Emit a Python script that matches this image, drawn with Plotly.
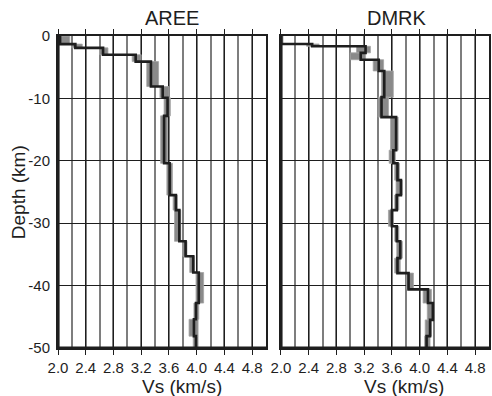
import plotly.graph_objects as go

# Shear-velocity models: layer top depth (km), velocity (km/s) and the
# spread of the model ensemble (low / high velocity) for each layer.
aree_top = [0.0, 1.3, 1.9, 3.0, 4.1, 8.1, 9.9, 12.8, 20.4, 25.5, 27.9, 32.9, 35.3, 37.9, 42.8, 45.4, 48.1]
aree_vs = [2.03, 2.25, 2.65, 3.12, 3.34, 3.51, 3.58, 3.53, 3.61, 3.70, 3.75, 3.84, 3.95, 4.03, 3.99, 3.96, 3.99]
aree_lo = [2.02, 2.20, 2.60, 3.07, 3.28, 3.47, 3.53, 3.48, 3.57, 3.66, 3.68, 3.80, 3.90, 3.99, 3.96, 3.89, 3.95]
aree_hi = [2.17, 2.35, 2.72, 3.20, 3.45, 3.60, 3.62, 3.58, 3.65, 3.72, 3.77, 3.86, 3.97, 4.10, 4.03, 4.02, 4.02]

dmrk_top = [0.0, 1.28, 1.65, 2.7, 3.8, 5.6, 9.8, 13.0, 18.3, 20.4, 23.1, 25.5, 27.9, 30.5, 32.9, 35.6, 38.0, 40.6, 42.8, 45.5, 48.1]
dmrk_vs = [2.0, 2.45, 3.22, 3.15, 3.41, 3.49, 3.45, 3.66, 3.62, 3.68, 3.73, 3.67, 3.60, 3.67, 3.72, 3.68, 3.84, 4.12, 4.19, 4.15, 4.10]
dmrk_lo = [2.0, 2.37, 3.09, 3.00, 3.33, 3.45, 3.40, 3.58, 3.56, 3.64, 3.66, 3.64, 3.55, 3.64, 3.67, 3.64, 3.81, 4.05, 4.11, 4.08, 4.07]
dmrk_hi = [2.03, 2.55, 3.29, 3.22, 3.48, 3.62, 3.55, 3.69, 3.65, 3.71, 3.75, 3.70, 3.62, 3.70, 3.75, 3.72, 3.91, 4.17, 4.20, 4.17, 4.15]

stations = ["AREE", "DMRK"]
max_depth = 50.0
vs_ticks = [2.0, 2.4, 2.8, 3.2, 3.6, 4.0, 4.4, 4.8]
vs_labels = ["2.0", "2.4", "2.8", "3.2", "3.6", "4.0", "4.4", "4.8"]
depth_ticks = [0, -10, -20, -30, -40, -50]
depth_labels = ["0", "-10", "-20", "-30", "-40", "-50"]

FONT = "Liberation Sans, Arial, sans-serif"
INK = "#1e1e1e"

fig = go.Figure()


def add_profile(tops, vs, lo, hi, xa, ya):
    bots = tops[1:] + [max_depth]
    # ensemble spread as grey boxes
    bx, by = [], []
    for t, b, l, h in zip(tops, bots, lo, hi):
        bx += [l, h, h, l, l, None]
        by += [-t, -t, -b, -b, -t, None]
    fig.add_trace(go.Scatter(x=bx, y=by, mode="lines", fill="toself",
                             fillcolor="#8a8a8a", line=dict(width=0.8, color="#a4a4a4"),
                             xaxis=xa, yaxis=ya, hoverinfo="skip", showlegend=False))
    # best model as a step line
    fig.add_trace(go.Scatter(x=vs + [vs[-1]], y=[-t for t in tops] + [-max_depth],
                             mode="lines", line=dict(color=INK, width=2.6, shape="vh"),
                             xaxis=xa, yaxis=ya, showlegend=False))


add_profile(aree_top, aree_vs, aree_lo, aree_hi, "x", "y")
add_profile(dmrk_top, dmrk_vs, dmrk_lo, dmrk_hi, "x2", "y2")

L, R, T, B = 58, 1, 36, 48
W, H = 492, 396
pw = W - L - R
ph = H - T - B


def xaxis(domain):
    return dict(domain=domain, range=[2.0, 5.0], tickmode="array", tickvals=vs_ticks,
                ticktext=vs_labels, ticks="outside", ticklen=5, tickwidth=1.3,
                tickcolor=INK, showline=True, linecolor=INK, linewidth=2, mirror="ticks",
                showgrid=True, gridcolor=INK, gridwidth=1.3, zeroline=False,
                minor=dict(dtick=0.2, tick0=2.0, showgrid=True, gridcolor="#7e7e7e",
                           gridwidth=1.6, ticks=""),
                tickfont=dict(family=FONT, size=15, color=INK), ticklabelstandoff=0,
                fixedrange=True)


def yaxis(anchor, labels):
    return dict(anchor=anchor, range=[-max_depth, 0], tickmode="array",
                tickvals=depth_ticks, ticktext=depth_labels, showticklabels=labels,
                ticks="", showline=True, linecolor=INK, linewidth=2, mirror=True,
                showgrid=True, gridcolor=INK, gridwidth=1.4, zeroline=False,
                tickfont=dict(family=FONT, size=15, color=INK), ticklabelstandoff=3,
                fixedrange=True)


d1 = [0, (267 - L) / pw]
d2 = [(282 - L) / pw, 1]

fig.update_layout(
    width=W, height=H,
    margin=dict(l=L, r=R, t=T, b=B, pad=0),
    paper_bgcolor="white", plot_bgcolor="white",
    xaxis=xaxis(d1), xaxis2=xaxis(d2),
    yaxis=yaxis("x", True), yaxis2=yaxis("x2", False),
    showlegend=False,
)

# heavier left and bottom frame edges
for xr, yr in (("x domain", "y domain"), ("x2 domain", "y2 domain")):
    fig.add_shape(type="line", xref=xr, yref=yr, x0=0, x1=0, y0=0, y1=1,
                  line=dict(color=INK, width=3.2), layer="above")
    fig.add_shape(type="line", xref=xr, yref=yr, x0=0, x1=1, y0=0, y1=0,
                  line=dict(color=INK, width=3.2), layer="above")


def px(xp):
    return (xp - L) / pw


def py(yp):
    return (H - B - yp) / ph


text_font = dict(family=FONT, size=19, color=INK)
for name, cx in zip(stations, (173, 399)):
    fig.add_annotation(text=name, x=px(cx), y=py(18), xref="paper", yref="paper",
                       showarrow=False, font=dict(family=FONT, size=20, color=INK),
                       xanchor="center", yanchor="middle")
for cx in (183, 406):
    fig.add_annotation(text="Vs (km/s)", x=px(cx), y=py(386), xref="paper", yref="paper",
                       showarrow=False, font=text_font, xanchor="center", yanchor="middle")
fig.add_annotation(text="Depth (km)", x=px(18), y=py(192), xref="paper", yref="paper",
                   showarrow=False, font=text_font, textangle=-90,
                   xanchor="center", yanchor="middle")

fig.write_html("out.html")
